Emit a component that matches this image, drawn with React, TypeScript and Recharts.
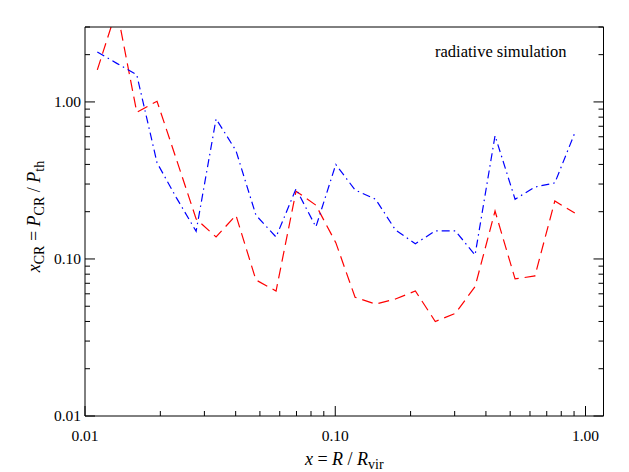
import { LineChart, Line, XAxis, YAxis } from 'recharts';

// radius in units of R_vir
const radius = [
  0.0112, 0.0134, 0.0161, 0.0194, 0.0232, 0.0278, 0.0334, 0.0401, 0.0482, 0.058, 0.0697, 0.0837, 0.1005,
  0.12, 0.145, 0.174, 0.209, 0.251, 0.302, 0.362, 0.435, 0.523, 0.628, 0.754, 0.906,
];

// blue dash-dot curve
const xcrBlue = [
  2.08, 1.76, 1.49, 0.41, 0.245, 0.15, 0.78, 0.49, 0.19, 0.138, 0.28, 0.16, 0.4,
  0.275, 0.24, 0.153, 0.125, 0.151, 0.151, 0.106, 0.61, 0.24, 0.287, 0.305, 0.635,
];

// red dashed curve (second point runs off the top of the frame)
const xcrRed = [
  1.6, 3.9, 0.86, 1.01, 0.43, 0.18, 0.138, 0.19, 0.0735, 0.0625, 0.27, 0.22, 0.127,
  0.057, 0.0516, 0.0556, 0.0625, 0.04, 0.045, 0.0667, 0.202, 0.0746, 0.078, 0.234, 0.196,
];

const xTicks = [
  0.01, 0.02, 0.03, 0.04, 0.05, 0.06, 0.07, 0.08, 0.09,
  0.1, 0.2, 0.3, 0.4, 0.5, 0.6, 0.7, 0.8, 0.9, 1.0,
];
const yTicks = [
  0.01, 0.02, 0.03, 0.04, 0.05, 0.06, 0.07, 0.08, 0.09,
  0.1, 0.2, 0.3, 0.4, 0.5, 0.6, 0.7, 0.8, 0.9, 1.0, 2.0, 3.0,
];

const data = radius.map((x, i) => ({ x, blue: xcrBlue[i], red: xcrRed[i] }));

const SERIF = "'Liberation Serif', 'DejaVu Serif', serif";
const INK = '#000';
const serifStyle = { fontFamily: SERIF };

const isMajor = (v: number) => {
  const l = Math.log10(v);
  return Math.abs(l - Math.round(l)) < 1e-6;
};
const fmt = (v: number) => v.toFixed(2);

const BottomTick = ({ x, y, payload }: any) => {
  const major = isMajor(payload.value);
  return (
    <g>
      <line x1={x} x2={x} y1={y} y2={y - (major ? 10 : 5)} stroke={INK} />
      {major && (
        <text x={x} y={y + 25} textAnchor="middle" style={serifStyle} fontSize={15.5} fill={INK}>
          {fmt(payload.value)}
        </text>
      )}
    </g>
  );
};

const TopTick = ({ x, y, payload }: any) => {
  const major = isMajor(payload.value);
  return <line x1={x} x2={x} y1={y} y2={y + (major ? 10 : 5)} stroke={INK} />;
};

const LeftTick = ({ x, y, payload }: any) => {
  const major = isMajor(payload.value);
  return (
    <g>
      <line x1={x} x2={x + (major ? 10 : 5)} y1={y} y2={y} stroke={INK} />
      {major && (
        <text x={x - 4} y={y + 5} textAnchor="end" style={serifStyle} fontSize={15.5} fill={INK}>
          {fmt(payload.value)}
        </text>
      )}
    </g>
  );
};

const RightTick = ({ x, y, payload }: any) => {
  const major = isMajor(payload.value);
  return <line x1={x} x2={x - (major ? 10 : 5)} y1={y} y2={y} stroke={INK} />;
};

const XTitle = ({ viewBox }: any) => {
  const cx = viewBox.x + viewBox.width / 2;
  const by = viewBox.y + 49;
  return (
    <text x={cx} y={by} textAnchor="middle" style={serifStyle} fontSize={18} fill={INK}>
      <tspan fontStyle="italic">x</tspan>
      <tspan> = </tspan>
      <tspan fontStyle="italic">R</tspan>
      <tspan> / </tspan>
      <tspan fontStyle="italic">R</tspan>
      <tspan fontSize={14} dy={4}>vir</tspan>
    </text>
  );
};

const YTitle = ({ viewBox }: any) => {
  const bx = viewBox.x + 15;
  const cy = viewBox.y + viewBox.height / 2 - 5;
  return (
    <text
      x={0}
      y={0}
      transform={`translate(${bx},${cy}) rotate(-90)`}
      textAnchor="middle"
      style={serifStyle}
      fontSize={18}
      fill={INK}
    >
      <tspan fontStyle="italic">x</tspan>
      <tspan fontSize={14} dy={4}>CR</tspan>
      <tspan dy={-4}> = </tspan>
      <tspan fontStyle="italic">P</tspan>
      <tspan fontSize={14} dy={4}>CR</tspan>
      <tspan dy={-4}> / </tspan>
      <tspan fontStyle="italic">P</tspan>
      <tspan fontSize={14} dy={4}>th</tspan>
    </text>
  );
};

export default function App() {
  return (
    <div style={{ position: 'absolute', left: 0, top: 0, background: '#fff' }}>
      <LineChart width={629} height={472} data={data} margin={{ top: 17, right: 15.5, left: 25, bottom: 16 }}>
        <XAxis
          dataKey="x"
          type="number"
          scale="log"
          domain={[0.01, 1.18]}
          allowDataOverflow
          ticks={xTicks}
          interval={0}
          height={40}
          tickSize={0}
          tickMargin={0}
          tickLine={false}
          axisLine={{ stroke: INK }}
          tick={<BottomTick />}
          label={<XTitle />}
        />
        <XAxis
          xAxisId="top"
          orientation="top"
          type="number"
          scale="log"
          domain={[0.01, 1.18]}
          allowDataOverflow
          ticks={xTicks}
          interval={0}
          height={10}
          tickSize={0}
          tickMargin={0}
          tickLine={false}
          axisLine={{ stroke: INK }}
          tick={<TopTick />}
        />
        <YAxis
          type="number"
          scale="log"
          domain={[0.01, 3]}
          allowDataOverflow
          ticks={yTicks}
          interval={0}
          width={60}
          tickSize={0}
          tickMargin={0}
          tickLine={false}
          axisLine={{ stroke: INK }}
          tick={<LeftTick />}
          label={<YTitle />}
        />
        <YAxis
          yAxisId="right"
          orientation="right"
          type="number"
          scale="log"
          domain={[0.01, 3]}
          allowDataOverflow
          ticks={yTicks}
          interval={0}
          width={10}
          tickSize={0}
          tickMargin={0}
          tickLine={false}
          axisLine={{ stroke: INK }}
          tick={<RightTick />}
        />
        <Line
          type="linear"
          dataKey="red"
          stroke="#ff0000"
          strokeWidth={1.2}
          strokeDasharray="11 6"
          dot={false}
          isAnimationActive={false}
        />
        <Line
          type="linear"
          dataKey="blue"
          stroke="#0000ff"
          strokeWidth={1.2}
          strokeDasharray="8 4 1.5 4"
          dot={false}
          isAnimationActive={false}
        />
        <text x={435} y={57} style={serifStyle} fontSize={16.5} fill={INK}>
          radiative simulation
        </text>
      </LineChart>
    </div>
  );
}
